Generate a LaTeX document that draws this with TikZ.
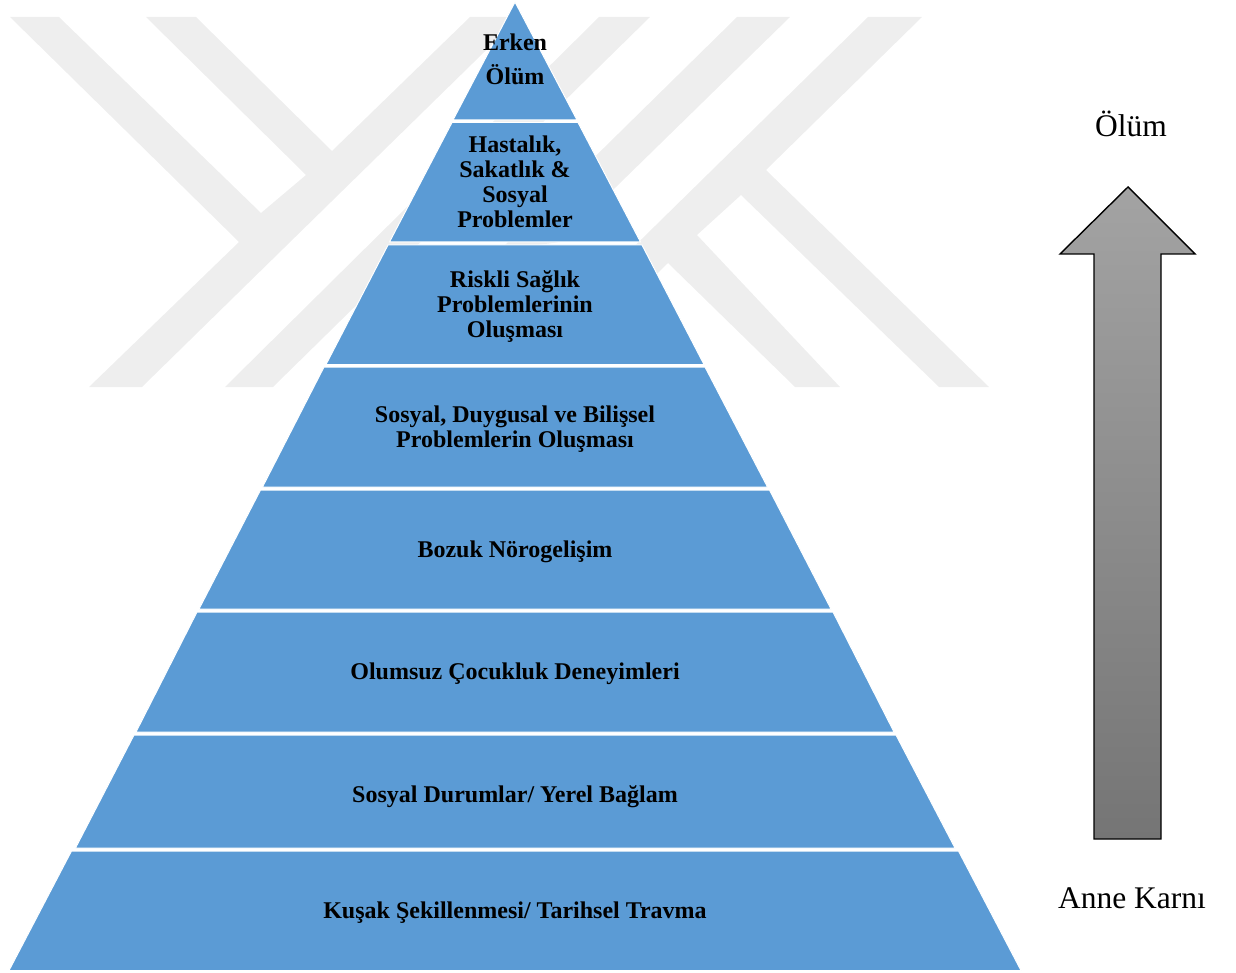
\documentclass[tikz,border=0pt]{standalone}
\usepackage{fontspec}
\setmainfont{Liberation Serif}
\definecolor{layerblue}{HTML}{5B9BD5}
\definecolor{markgray}{HTML}{EEEEEE}
\definecolor{arrowtop}{HTML}{A3A3A3}
\definecolor{arrowbottom}{HTML}{757575}
\tikzset{
  layer/.style={fill=layerblue, draw=white, line width=0.5pt},
  markshape/.style={fill=markgray},
  layertext/.style={font=\fontsize{12}{12.5}\selectfont\bfseries, align=center, inner sep=0pt},
  sidetext/.style={font=\fontsize{15.75}{18}\selectfont, inner sep=0pt}
}
\begin{document}
\begin{tikzpicture}[x=0.5pt,y=-0.5pt]
\useasboundingbox (0,0) rectangle (1236,973);
% background mark
\path [markshape] (10,17) -- (59,17) -- (261,213) -- (306,175) -- (146,17) -- (196,17) -- (332,151) -- (470,17) -- (520,17) -- (142,387) -- (89,387) -- (239,242) -- cycle;
\path [markshape] (599,17) -- (650,17) -- (273,387) -- (225,387) -- cycle;
\path [markshape] (737,17) -- (790,17) -- (616,187) -- (560,242) -- (500,250) -- cycle;
\path [markshape] (868,17) -- (922,17) -- (766,170) -- (989,387) -- (939,387) -- (741,195) -- (697,235) -- (840,387) -- (795,387) -- (668,263) -- (600,330) -- (549,330) -- cycle;
% pyramid
\path [layer] (515,2) -- (577,120) -- (453,120) -- cycle;
\path [layer] (452,122.5) -- (578,122.5) -- (640.5,242) -- (389.5,242) -- cycle;
\path [layer] (388,245) -- (642,245) -- (704,364.5) -- (326,364.5) -- cycle;
\path [layer] (324,367) -- (705,367) -- (767.5,487) -- (262.5,487) -- cycle;
\path [layer] (260.5,490) -- (769.5,490) -- (831,609) -- (199,609) -- cycle;
\path [layer] (197,612) -- (833,612) -- (894,732) -- (136,732) -- cycle;
\path [layer] (134,735) -- (896,735) -- (955,848) -- (75.5,848) -- cycle;
\path [layer] (71.5,851) -- (958.5,851) -- (1021,970.5) -- (9,970.5) -- cycle;
\node [layertext] (early) at (515,59) {Erken\\[4.5pt]Ölüm};
\node [layertext] (illness) at (515,181.5) {Hastalık,\\Sakatlık \&\\Sosyal\\Problemler};
\node [layertext] (risk) at (515,307) {Riskli Sağlık\\Problemlerinin\\Oluşması};
\node [layertext] (social) at (515,429.5) {Sosyal, Duygusal ve Bilişsel\\Problemlerin Oluşması};
\node [layertext] (neuro) at (515,552) {Bozuk Nörogelişim};
\node [layertext] (child) at (515,674) {Olumsuz Çocukluk Deneyimleri};
\node [layertext] (local) at (515,797) {Sosyal Durumlar/ Yerel Bağlam};
\node [layertext] (trauma) at (515,913) {Kuşak Şekillenmesi/ Tarihsel Travma};
% arrow
\shade [top color=arrowtop, bottom color=arrowbottom, draw=black, line width=0.7pt] (1128,187) -- (1195,254) -- (1161,254) -- (1161,839) -- (1094,839) -- (1094,254) -- (1060,254) -- cycle;
\node [sidetext] (death) at (1131,124) {Ölüm};
\node [sidetext] (womb) at (1132,898) {Anne Karnı};
\end{tikzpicture}
\end{document}
